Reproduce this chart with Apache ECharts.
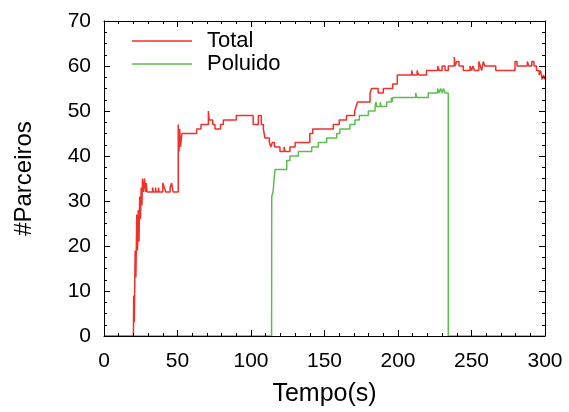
<!DOCTYPE html>
<html>
<head>
<meta charset="utf-8">
<script src="https://cdn.jsdelivr.net/npm/echarts@6/dist/echarts.min.js"></script>
<style>
html, body { margin: 0; padding: 0; background: #fff; }
#chart { width: 569px; height: 412px; }
</style>
</head>
<body>
<div id="chart"></div>
<script>
// series names
var nomes = ['Total', 'Poluido'];

// Total: tempo (s) e numero de parceiros
var tempoTotal = [0, 20, 20.2, 20.6, 21.2, 21.7, 22.3, 22.8, 23.3, 23.8, 24.3, 24.8, 25.3, 25.8, 26.2, 26.7, 27.6, 28.2, 28.7, 29.3,
    33, 33.6, 35, 35.5, 37, 37.5, 40, 41, 42, 45, 46, 47, 50.5, 51, 51.5, 52, 53, 63, 66, 71, 71.6, 74, 75.5, 79.3, 81.2, 90,
    101.5, 105, 107, 108.4, 109.5, 112.5, 113.5, 114.5, 116, 119.7, 122.5, 123.2, 126.5, 130, 140, 142, 156, 160, 165,
    170.5, 171.5, 172.5, 181, 182, 186.5, 190, 196.4, 199.5, 209.3, 210, 213, 214, 219.4, 227, 228, 230, 232, 234.2,
    238.3, 238.8, 240, 241.5, 244.4, 249, 250, 251, 252, 255, 256, 257, 258, 259, 266.5, 279.6, 281, 288, 289, 291,
    292.5, 294.2, 296, 297, 298, 299, 300];
var parcTotal = [0, 0, 9, 3, 19, 13, 27, 19, 28, 21, 31, 26, 33, 29, 35, 32, 35, 32, 34, 32,
    33, 32, 33, 32, 33, 32, 34, 33, 32, 33, 34, 32, 47, 41, 46, 42, 45, 46, 47, 50, 48, 47, 46, 47, 48, 49,
    47, 49, 47, 46, 44, 43, 42, 43, 42, 41, 42, 41, 42, 43, 45, 46, 47, 48, 49,
    50, 51, 52, 54, 55, 54, 55, 56, 58, 59, 58, 59, 58, 59, 60, 59, 60, 59, 60,
    62, 60, 61, 60, 59, 60, 59, 60, 59, 61, 60, 59, 61, 60, 59, 61, 60, 61, 60, 61,
    60, 59, 58, 59, 57, 58, 57];

// Poluido
var tempoPoluido = [0, 114, 114.1, 115, 116.3, 124.3, 126.5, 132.2, 141.3, 145.8, 151.5, 158.3, 160.5, 167.3, 170.7, 173.7,
    179.8, 184.4, 185, 185.5, 188, 188.5, 192.3, 195.5, 196, 196.5, 212, 212.8, 220.6, 227, 227.8, 229, 230, 231, 232,
    234.2, 300];
var parcPoluido = [0, 0, 31, 32, 37, 39, 40, 41, 42, 43, 44, 45, 46, 47, 48, 49,
    50, 51, 52, 51, 52, 51, 52, 53, 52, 53, 54, 53, 54, 55, 54, 55, 54, 55, 54,
    0, 0];

function junta(t, v) {
    var out = [];
    for (var i = 0; i < t.length; i++) out.push([t[i], v[i]]);
    return out;
}

var fonte = '"Liberation Sans", Arial, sans-serif';

var eixoBase = {
    axisLine: { show: true, onZero: false, lineStyle: { color: '#000', width: 1 } },
    axisTick: { show: true, inside: true, length: 6, lineStyle: { color: '#000' } },
    splitLine: { show: false },
    z: 5
};

var option = {
    animation: false,
    backgroundColor: '#fff',
    grid: { left: 104, right: 24, top: 21, bottom: 73 },
    legend: {
        orient: 'vertical',
        left: 127,
        top: 25,
        icon: 'rect',
        itemWidth: 60,
        itemHeight: 1.5,
        itemGap: 1,
        data: nomes,
        textStyle: { fontFamily: fonte, fontSize: 22, color: '#000', lineHeight: 22, padding: [0, 0, 0, 10] }
    },
    xAxis: [
        Object.assign({}, eixoBase, {
            type: 'value', min: 0, max: 300, interval: 50,
            minorTick: { show: true, splitNumber: 5, length: 3, lineStyle: { color: '#000' } },
            name: 'Tempo(s)', nameLocation: 'middle', nameGap: 46,
            nameTextStyle: { fontFamily: fonte, fontSize: 25, color: '#000' },
            axisLabel: { fontFamily: fonte, fontSize: 21, color: '#000', margin: 15 }
        }),
        Object.assign({}, eixoBase, {
            type: 'value', min: 0, max: 300, interval: 50, position: 'top',
            minorTick: { show: true, splitNumber: 5, length: 3, lineStyle: { color: '#000' } },
            axisLabel: { show: false }
        })
    ],
    yAxis: [
        Object.assign({}, eixoBase, {
            type: 'value', min: 0, max: 70, interval: 10,
            minorTick: { show: true, splitNumber: 4, length: 3, lineStyle: { color: '#000' } },
            name: '#Parceiros', nameLocation: 'middle', nameGap: 68, nameRotate: 90,
            nameTextStyle: { fontFamily: fonte, fontSize: 24, color: '#000' },
            axisLabel: { fontFamily: fonte, fontSize: 21, color: '#000', margin: 13 }
        }),
        Object.assign({}, eixoBase, {
            type: 'value', min: 0, max: 70, interval: 10, position: 'right',
            minorTick: { show: true, splitNumber: 4, length: 3, lineStyle: { color: '#000' } },
            axisLabel: { show: false }
        })
    ],
    series: [
        {
            name: 'Total', type: 'line', step: 'end', symbol: 'none',
            data: junta(tempoTotal, parcTotal),
            lineStyle: { color: '#f0302a', width: 1.5 },
            itemStyle: { color: '#f0302a' }
        },
        {
            name: 'Poluido', type: 'line', step: 'end', symbol: 'none',
            data: junta(tempoPoluido, parcPoluido),
            lineStyle: { color: '#5cbd4e', width: 1.5 },
            itemStyle: { color: '#5cbd4e' }
        }
    ]
};

var myChart = echarts.init(document.getElementById('chart'));
myChart.setOption(option);
</script>
</body>
</html>
